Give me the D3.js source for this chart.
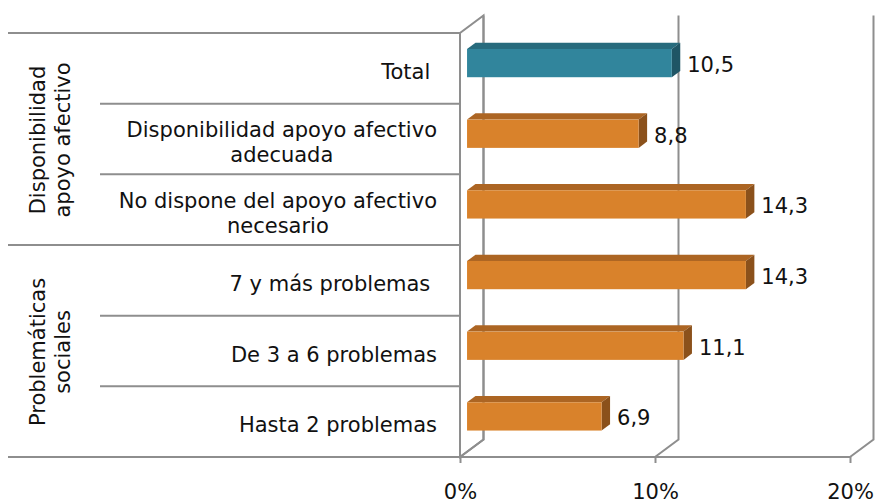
<!DOCTYPE html>
<html lang="es">
<head>
<meta charset="utf-8">
<title>Disponibilidad de apoyo afectivo y problemáticas sociales</title>
<script src="https://cdn.jsdelivr.net/npm/d3@7/dist/d3.min.js"></script>
<style>
  html, body { margin: 0; padding: 0; background: #ffffff; }
  svg { display: block; }
  text { font-family: "DejaVu Sans", Verdana, sans-serif; fill: #111; }
</style>
</head>
<body>
<div id="chart"></div>
<script>
// Category labels (one entry per line of each label), top to bottom
const categoryLines = [
  ["Total "],
  ["Disponibilidad apoyo afectivo", "adecuada"],
  ["No dispone del apoyo afectivo", "necesario"],
  ["7 y más problemas "],
  ["De 3 a 6 problemas"],
  ["Hasta 2 problemas"]
];

// Percentages for each category
const values = [10.5, 8.8, 14.3, 14.3, 11.1, 6.9];

// Outer grouping of the categories (first and last index of each group)
const groupLines = [["Disponibilidad", "apoyo afectivo"], ["Problemáticas", "sociales"]];
const groupStart = [0, 3];
const groupEnd = [2, 5];

// Value axis ticks
const xTicks = [0, 10, 20];

// ---- layout ----
const W = 875, H = 504;
const plotLeft = 460, plotRight = 850;
const plotTop = 33, plotBottom = 457;
const depth = { dx: 23.5, dy: -17.5 };   // back wall offset from the front plane
const barFront = 0.3, barBack = 0.66;     // bar slab position within the depth
const fontSize = 21;
const gridColor = "#8e8e8e";

const colors = {
  total:  { front: "#31859C", top: "#276B7D", side: "#1F5565" },
  normal: { front: "#D9822B", top: "#AC6523", side: "#8B511B" }
};

const esLocale = d3.formatLocale({ decimal: ",", thousands: ".", grouping: [3], currency: ["", " €"] });
const fmtValue = esLocale.format(".1f");

const svg = d3.select("#chart").append("svg")
  .attr("width", W).attr("height", H)
  .attr("viewBox", `0 0 ${W} ${H}`);

svg.append("rect").attr("width", W).attr("height", H).attr("fill", "#fff");

const x = d3.scaleLinear().domain([0, 20]).range([plotLeft, plotRight]);
const y = d3.scaleBand()
  .domain(d3.range(values.length))
  .range([plotTop, plotBottom])
  .paddingInner(0.6)
  .paddingOuter(0.3);
const step = y.step();
const boundary = i => plotTop + i * step;

const off = t => ({ dx: depth.dx * t, dy: depth.dy * t });

// ---- walls and gridlines ----
const grid = svg.append("g")
  .attr("fill", "none")
  .attr("stroke", gridColor)
  .attr("stroke-width", 2);

// side wall (left) outline
grid.append("path").attr("d", [
  `M${x(0)},${plotBottom}`,
  `L${x(0)},${plotTop}`,
  `L${x(0) + depth.dx},${plotTop + depth.dy}`,
  `L${x(0) + depth.dx},${plotBottom + depth.dy}`,
  `Z`
].join(""));

// back-wall vertical gridlines continuing across the floor
xTicks.forEach(t => {
  grid.append("path").attr("d", [
    `M${x(t) + depth.dx},${plotTop + depth.dy}`,
    `L${x(t) + depth.dx},${plotBottom + depth.dy}`,
    `L${x(t)},${plotBottom}`
  ].join(""));
});

// category separators on the left side
d3.range(values.length + 1).forEach(i => {
  const isGroupEdge = i === 0 || i === values.length || groupStart.includes(i);
  grid.append("line")
    .attr("x1", isGroupEdge ? 8 : 100)
    .attr("x2", i === values.length ? x(20) : x(0))
    .attr("y1", boundary(i)).attr("y2", boundary(i));
});

// value axis: tick marks and labels
const xAxis = d3.axisBottom(x)
  .tickValues(xTicks)
  .tickFormat(d => d + "%")
  .tickSize(6)
  .tickPadding(21);

const axisG = svg.append("g")
  .attr("transform", `translate(0,${plotBottom})`)
  .call(xAxis);
axisG.select(".domain").remove();
axisG.selectAll(".tick line").attr("stroke", gridColor).attr("stroke-width", 2);
axisG.selectAll(".tick text")
  .attr("font-family", "DejaVu Sans, Verdana, sans-serif")
  .attr("font-size", fontSize)
  .attr("fill", "#111");

// ---- 3D bars ----
const f = off(barFront), b = off(barBack);
const bars = svg.append("g");
values.forEach((v, i) => {
  const c = i === 0 ? colors.total : colors.normal;
  const y0 = y(i) + f.dy, y1 = y0 + y.bandwidth();
  const xa = x(0) + f.dx, xb = x(v) + f.dx;
  const g = bars.append("g");
  // top face
  g.append("path")
    .attr("d", `M${xa},${y0}L${xb},${y0}L${x(v) + b.dx},${y(i) + b.dy}L${x(0) + b.dx},${y(i) + b.dy}Z`)
    .attr("fill", c.top);
  // right side face
  g.append("path")
    .attr("d", `M${xb},${y0}L${x(v) + b.dx},${y(i) + b.dy}L${x(v) + b.dx},${y(i) + b.dy + y.bandwidth()}L${xb},${y1}Z`)
    .attr("fill", c.side);
  // front face
  g.append("rect")
    .attr("x", xa).attr("y", y0)
    .attr("width", xb - xa).attr("height", y.bandwidth())
    .attr("fill", c.front);
  // value label
  g.append("text")
    .attr("x", x(v) + b.dx + 7)
    .attr("y", y0 + y.bandwidth() / 2 + 9)
    .attr("font-size", fontSize)
    .text(fmtValue(v));
});

// ---- category labels ----
const labelRight = 437, lineGap = 25;
const labels = svg.append("g").attr("font-size", fontSize);
categoryLines.forEach((lines, i) => {
  const g = labels.append("g");
  const texts = lines.map(l => g.append("text")
    .style("white-space", "pre")
    .attr("text-anchor", "middle")
    .text(l));
  const maxW = d3.max(texts, t => t.node().getComputedTextLength());
  const cx = labelRight - maxW / 2;
  const mid = boundary(i) + step / 2 + 3;
  const capHalf = fontSize * 0.729 / 2;
  const firstBase = mid + capHalf - (lines.length - 1) * lineGap / 2;
  texts.forEach((t, k) => t.attr("x", cx).attr("y", firstBase + k * lineGap));
});

// ---- group labels (rotated) ----
groupLines.forEach((lines, gi) => {
  const cy = (boundary(groupStart[gi]) + boundary(groupEnd[gi] + 1)) / 2 + 1;
  lines.forEach((l, k) => {
    svg.append("text")
      .attr("transform", `translate(${45 + k * 25},${cy}) rotate(-90)`)
      .attr("text-anchor", "middle")
      .attr("font-size", fontSize)
      .text(l);
  });
});
</script>
</body>
</html>
